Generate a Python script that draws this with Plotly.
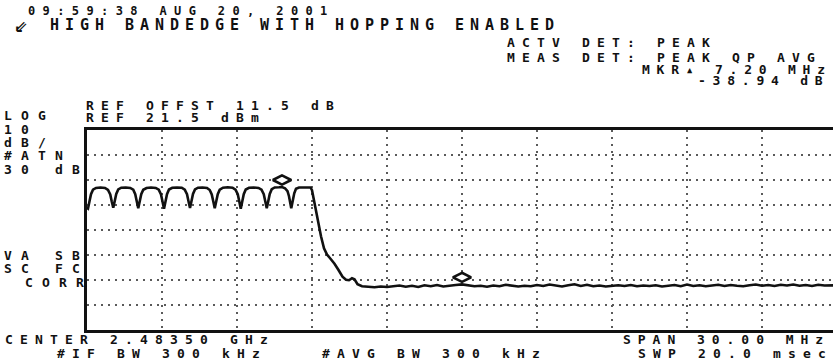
import plotly.graph_objects as go

# ---- sweep data (frequency in MHz, level in dBm) ----
# hopping carriers below the band edge
band_freq = [
    2468.50, 2468.54, 2468.60, 2468.66, 2468.74, 2468.86, 2469.04, 2469.22, 2469.34, 2469.43, 2469.49,
    2469.55, 2469.61, 2469.67, 2469.75, 2469.87, 2470.05, 2470.23, 2470.35, 2470.43, 2470.49,
    2470.55, 2470.61, 2470.67, 2470.75, 2470.88, 2471.06, 2471.25, 2471.37, 2471.46, 2471.52,
    2471.58, 2471.64, 2471.70, 2471.78, 2471.91, 2472.10, 2472.29, 2472.41, 2472.50, 2472.56,
    2472.62, 2472.68, 2472.74, 2472.82, 2472.94, 2473.12, 2473.30, 2473.41, 2473.49, 2473.55,
    2473.61, 2473.67, 2473.73, 2473.81, 2473.94, 2474.13, 2474.32, 2474.44, 2474.53, 2474.59,
    2474.65, 2474.71, 2474.77, 2474.85, 2474.98, 2475.17, 2475.36, 2475.48, 2475.57, 2475.63,
    2475.69, 2475.75, 2475.81, 2475.89, 2476.01, 2476.18, 2476.30, 2476.42, 2476.52, 2476.58, 2476.63,
    2476.67, 2476.73, 2476.79, 2476.86, 2476.98, 2477.20, 2477.44,
]
band_level = [
    -9.6, -9.9, -7.0, -4.2, -2.4, -1.7, -1.5, -1.7, -2.5, -4.3, -7.1,
    -9.6, -6.9, -4.1, -2.3, -1.6, -1.5, -1.7, -2.4, -4.2, -7.0,
    -9.8, -7.0, -4.2, -2.4, -1.7, -1.5, -1.7, -2.4, -4.3, -7.1,
    -10.0, -7.1, -4.2, -2.3, -1.6, -1.5, -1.6, -2.4, -4.2, -7.0,
    -9.7, -6.9, -4.1, -2.3, -1.6, -1.5, -1.7, -2.5, -4.3, -7.0,
    -9.8, -7.0, -4.2, -2.4, -1.6, -1.4, -1.6, -2.4, -4.2, -7.0,
    -10.0, -7.1, -4.2, -2.3, -1.6, -1.5, -1.7, -2.4, -4.2, -7.0,
    -9.8, -7.0, -4.1, -2.2, -1.5, -1.4, -1.3, -1.8, -3.0, -5.0, -7.4,
    -9.8, -6.8, -3.8, -2.0, -1.5, -1.5, -1.5,
]

# roll-off past the last channel
skirt_freq = [
    2477.50, 2477.56, 2477.62, 2477.74, 2477.86, 2477.98, 2478.10, 2478.24, 2478.40,
    2478.56, 2478.72, 2478.86, 2478.98, 2479.10, 2479.20, 2479.32, 2479.50,
]
skirt_level = [
    -2.6, -5.8, -9.3, -15.5, -21.0, -25.8, -28.3, -30.0, -32.0,
    -34.5, -37.2, -38.4, -38.6, -37.8, -38.2, -40.2, -41.0,
]

# noise floor above the band edge
floor_freq = [
    2479.75, 2480.00, 2480.25, 2480.50, 2480.75, 2481.00, 2481.25, 2481.50,
    2481.75, 2482.00, 2482.25, 2482.50, 2482.75, 2483.00, 2483.25, 2483.50,
    2483.75, 2484.00, 2484.25, 2484.50, 2484.75, 2485.00, 2485.25, 2485.50,
    2485.75, 2486.00, 2486.25, 2486.50, 2486.75, 2487.00, 2487.25, 2487.50,
    2487.75, 2488.00, 2488.25, 2488.50, 2488.75, 2489.00, 2489.25, 2489.50,
    2489.75, 2490.00, 2490.25, 2490.50, 2490.75, 2491.00, 2491.25, 2491.50,
    2491.75, 2492.00, 2492.25, 2492.50, 2492.75, 2493.00, 2493.25, 2493.50,
    2493.75, 2494.00, 2494.25, 2494.50, 2494.75, 2495.00, 2495.25, 2495.50,
    2495.75, 2496.00, 2496.25, 2496.50, 2496.75, 2497.00, 2497.25, 2497.50,
    2497.75, 2498.00, 2498.25, 2498.50,
]
floor_level = [
    -41.2, -41.4, -41.1, -41.3, -41.0, -40.7, -41.2, -40.8,
    -41.3, -40.6, -41.0, -40.5, -41.1, -40.7, -40.5, -40.24,
    -40.6, -41.0, -40.8, -41.2, -40.7, -41.0, -40.4, -40.9,
    -41.1, -40.8, -41.0, -40.5, -40.9, -40.3, -40.8, -41.1,
    -40.6, -40.2, -40.9, -40.4, -41.0, -40.7, -41.1, -40.8,
    -40.6, -40.9, -40.5, -41.0, -40.7, -40.9, -40.6, -41.1,
    -40.8, -40.5, -41.0, -40.3, -40.9, -40.6, -41.0, -40.7,
    -40.4, -40.9, -40.5, -40.8, -41.0, -40.6, -40.3, -40.8,
    -40.5, -40.9, -40.4, -40.7, -40.3, -40.8, -40.5, -40.9,
    -40.4, -40.7, -40.5, -40.6,
]

# markers: marker 1 on the highest carrier, delta marker 7.20 MHz above it
MKR1_FREQ = 2476.30
MKR1_LEVEL = -1.30
MKR_DELTA_FREQ = 7.20
MKR_DELTA_LEVEL = -38.94

# display settings
CENTER_MHZ = 2483.50
SPAN_MHZ = 30.0
REF_LEVEL = 21.5
DB_PER_DIV = 10
Y_DIVS = 8
X_DIVS = 10

# screen annotations
DATE_LINE = "09:59:38 AUG 20, 2001"
TITLE_LINE = "HIGH BANDEDGE WITH HOPPING ENABLED"
DET_LINES = ["ACTV DET: PEAK", "MEAS DET: PEAK QP AVG"]
MKR_LINES = ["MKR\u25b4 7.20 MHz", "-38.94 dB"]
REF_LINES = ["REF OFFST 11.5 dB", "REF 21.5 dBm"]
LEFT_TOP = ["LOG", "10", "dB/", "#ATN", "30 dB", "VA SB", "SC FC"]
LEFT_CORR = "CORR"
BOTTOM_LEFT = ["CENTER 2.48350 GHz", "#IF BW 300 kHz"]
BOTTOM_MID = "#AVG BW 300 kHz"
BOTTOM_RIGHT = ["SPAN 30.00 MHz", "SWP 20.0 msec"]

freq = band_freq + skirt_freq + floor_freq
level = band_level + skirt_level + floor_level

mkr2_freq = MKR1_FREQ + MKR_DELTA_FREQ
mkr2_level = MKR1_LEVEL + MKR_DELTA_LEVEL

# ---- figure geometry ----
W, H = 833, 364
L, T, B = 87, 130, 34
PLOT_W = W - L
PLOT_H = H - T - B
PX_PER_MHZ = 25.0  # graticule: 10 divisions of 3 MHz, 75 px each

f_start = CENTER_MHZ - SPAN_MHZ / 2
x_range = [f_start, f_start + PLOT_W / PX_PER_MHZ]
y_range = [REF_LEVEL - DB_PER_DIV * Y_DIVS, REF_LEVEL]

INK = "#111111"
GRID = "#5a5a5a"
FONT = "DejaVu Sans Mono"

fig = go.Figure()
fig.add_trace(go.Scatter(
    x=freq, y=level, mode="lines",
    line=dict(color=INK, width=2.6),
    hoverinfo="skip", showlegend=False,
))
fig.add_trace(go.Scatter(
    x=[MKR1_FREQ, mkr2_freq], y=[MKR1_LEVEL, mkr2_level], mode="markers",
    marker=dict(symbol="diamond-wide", size=13, color="white",
                line=dict(color=INK, width=2.6), standoff=7, angle=180),
    hoverinfo="skip", showlegend=False,
))


def px_x(px):
    return (px - L) / PLOT_W


def px_y(py):
    return (T + PLOT_H - py) / PLOT_H


def put(text, x, y, size=13, pitch=15.0, anchor="left"):
    spacing = pitch - 0.602 * size
    xx = x + (spacing if anchor == "right" else 0)
    fig.add_annotation(
        xref="paper", yref="paper", x=px_x(xx), y=px_y(y),
        xanchor=anchor, yanchor="middle", showarrow=False, borderpad=0,
        text=f'<span style="letter-spacing:{spacing:.2f}px">{text}</span>',
        font=dict(family=FONT, size=size, color=INK, weight="bold"),
    )


put(DATE_LINE, 27, 11, size=12, pitch=14.6)
put("\u21d9", 14, 24, size=22, pitch=16)
put(TITLE_LINE, 49, 25, size=15, pitch=15)
put(DET_LINES[0], 506, 43)
put(DET_LINES[1], 506, 57)
put(MKR_LINES[0], 641, 69, pitch=14.6)
put(MKR_LINES[1], 697, 81, pitch=14.6)
put(REF_LINES[0], 85, 105)
put(REF_LINES[1], 85, 118)
for txt, yy in zip(LEFT_TOP, [116, 129, 142, 155, 169, 255, 268]):
    put(txt, 3, yy, pitch=17)
put(LEFT_CORR, 85, 282, pitch=17, anchor="right")
put(BOTTOM_LEFT[0], 4, 339)
put(BOTTOM_LEFT[1], 56, 353)
put(BOTTOM_MID, 321, 353)
put(BOTTOM_RIGHT[0], 622, 339, pitch=14.8)
put(BOTTOM_RIGHT[1], 637, 353)

axis_common = dict(
    showgrid=True, gridcolor=GRID, gridwidth=1.8, griddash="2px,5px",
    showline=True, linecolor=INK, linewidth=2.6,
    showticklabels=False, ticks="", zeroline=False, fixedrange=True,
)
fig.update_xaxes(range=x_range, tick0=f_start, dtick=SPAN_MHZ / X_DIVS, mirror=True, **axis_common)
fig.update_yaxes(range=y_range, tick0=REF_LEVEL, dtick=DB_PER_DIV, mirror=False, **axis_common)

fig.update_layout(
    width=W, height=H,
    margin=dict(l=L, r=0, t=T, b=B, pad=0),
    paper_bgcolor="white", plot_bgcolor="white",
    showlegend=False,
)

fig.write_html("out.html", config={"displayModeBar": False})
